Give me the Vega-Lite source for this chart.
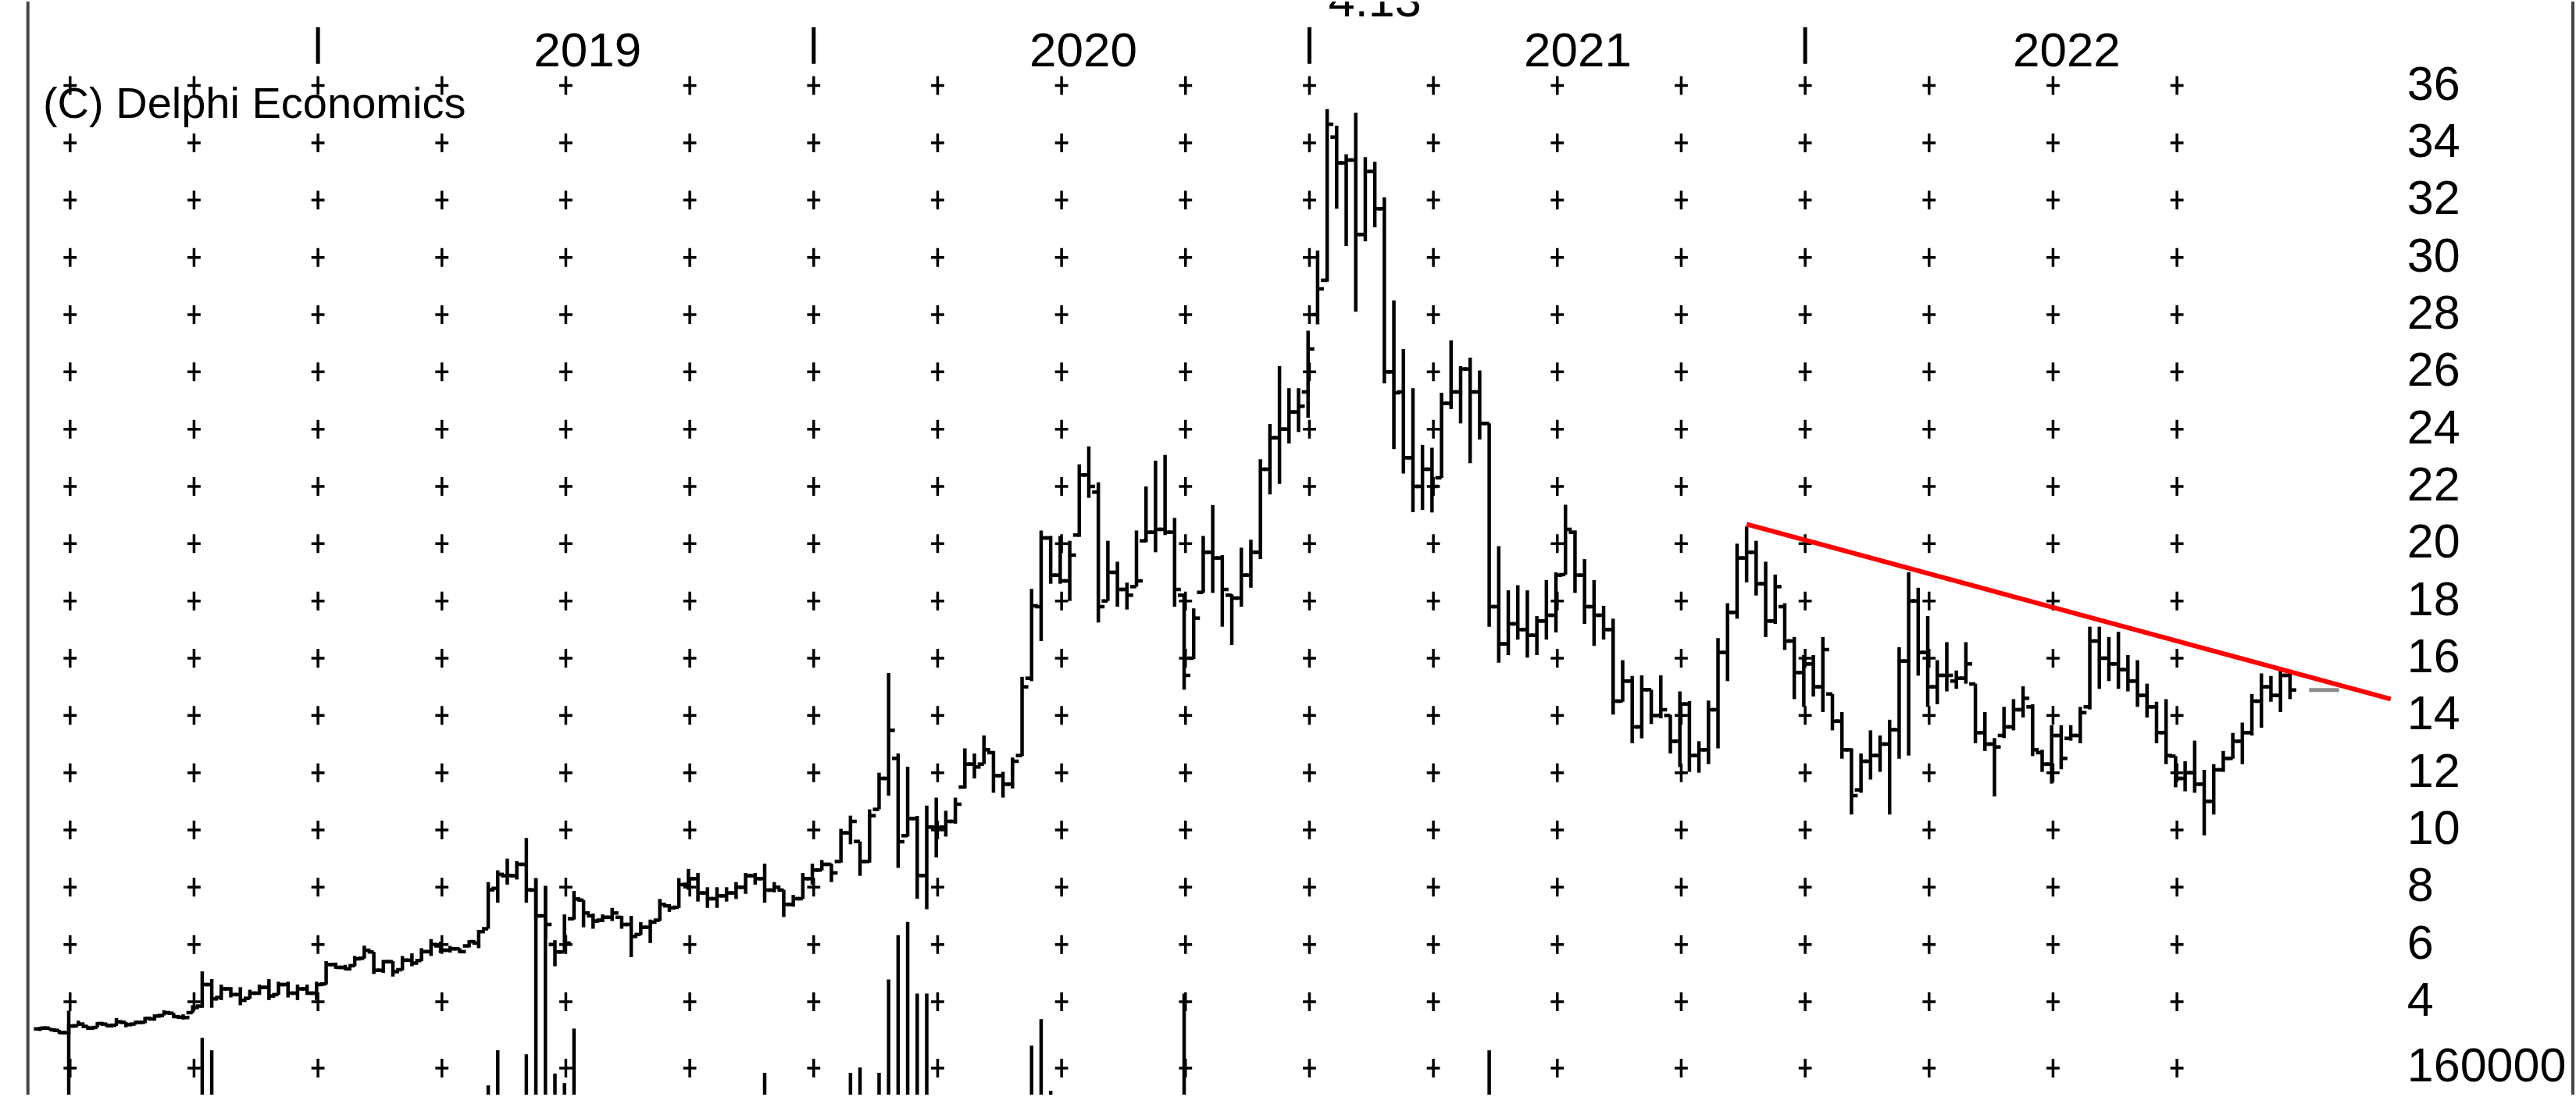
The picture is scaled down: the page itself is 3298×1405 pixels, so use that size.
{
"$schema": "https://vega.github.io/schema/vega-lite/v6.json",
"width": 3298, "height": 1405, "padding": 0,
"autosize": {"type": "fit", "contains": "padding"},
"background": "#ffffff",
"config": {"view": {"stroke": null}},
"datasets": {
"ohlc": [
{"d":"2018-06-08","o":3.05,"h":3.12,"l":2.98,"c":3.08},
{"d":"2018-06-15","o":3.08,"h":3.10,"l":3.00,"c":3.02},
{"d":"2018-06-22","o":3.00,"h":3.02,"l":2.88,"c":2.92},
{"d":"2018-06-29","o":2.92,"h":3.20,"l":2.86,"c":3.15},
{"d":"2018-07-06","o":3.16,"h":3.34,"l":3.16,"c":3.22},
{"d":"2018-07-13","o":3.14,"h":3.16,"l":3.02,"c":3.08},
{"d":"2018-07-20","o":3.10,"h":3.29,"l":3.10,"c":3.24},
{"d":"2018-07-27","o":3.22,"h":3.25,"l":3.11,"c":3.16},
{"d":"2018-08-03","o":3.18,"h":3.43,"l":3.16,"c":3.30},
{"d":"2018-08-10","o":3.28,"h":3.29,"l":3.11,"c":3.20},
{"d":"2018-08-17","o":3.22,"h":3.34,"l":3.20,"c":3.28},
{"d":"2018-08-24","o":3.28,"h":3.47,"l":3.25,"c":3.42},
{"d":"2018-08-31","o":3.40,"h":3.56,"l":3.34,"c":3.50},
{"d":"2018-09-07","o":3.52,"h":3.70,"l":3.52,"c":3.62},
{"d":"2018-09-14","o":3.60,"h":3.61,"l":3.43,"c":3.48},
{"d":"2018-09-21","o":3.46,"h":3.56,"l":3.38,"c":3.45},
{"d":"2018-09-28","o":3.62,"h":3.88,"l":3.61,"c":3.80},
{"d":"2018-10-05","o":3.85,"h":5.06,"l":3.79,"c":4.60},
{"d":"2018-10-12","o":4.60,"h":4.79,"l":3.79,"c":4.10},
{"d":"2018-10-19","o":4.15,"h":4.60,"l":4.06,"c":4.45},
{"d":"2018-10-26","o":4.45,"h":4.51,"l":4.15,"c":4.25},
{"d":"2018-11-02","o":4.25,"h":4.51,"l":3.88,"c":4.05},
{"d":"2018-11-09","o":4.12,"h":4.42,"l":4.10,"c":4.30},
{"d":"2018-11-16","o":4.30,"h":4.60,"l":4.24,"c":4.50},
{"d":"2018-11-23","o":4.50,"h":4.79,"l":4.06,"c":4.20},
{"d":"2018-11-30","o":4.25,"h":4.70,"l":4.24,"c":4.60},
{"d":"2018-12-07","o":4.60,"h":4.70,"l":4.15,"c":4.30},
{"d":"2018-12-14","o":4.30,"h":4.60,"l":4.06,"c":4.45},
{"d":"2018-12-21","o":4.45,"h":4.60,"l":4.24,"c":4.30},
{"d":"2018-12-28","o":4.30,"h":4.70,"l":4.06,"c":4.60},
{"d":"2019-01-04","o":4.62,"h":5.42,"l":4.60,"c":5.30},
{"d":"2019-01-11","o":5.30,"h":5.37,"l":5.15,"c":5.20},
{"d":"2019-01-18","o":5.20,"h":5.29,"l":5.10,"c":5.15},
{"d":"2019-01-25","o":5.26,"h":5.60,"l":5.24,"c":5.50},
{"d":"2019-02-01","o":5.52,"h":5.96,"l":5.51,"c":5.80},
{"d":"2019-02-08","o":5.74,"h":5.74,"l":4.97,"c":5.10},
{"d":"2019-02-15","o":5.10,"h":5.46,"l":5.01,"c":5.40},
{"d":"2019-02-22","o":5.40,"h":5.42,"l":4.88,"c":5.05},
{"d":"2019-03-01","o":5.12,"h":5.60,"l":5.10,"c":5.45},
{"d":"2019-03-08","o":5.45,"h":5.69,"l":5.24,"c":5.35},
{"d":"2019-03-15","o":5.44,"h":5.87,"l":5.42,"c":5.75},
{"d":"2019-03-22","o":5.75,"h":6.19,"l":5.60,"c":6.00},
{"d":"2019-03-29","o":5.95,"h":6.10,"l":5.70,"c":5.80},
{"d":"2019-04-05","o":5.80,"h":5.95,"l":5.72,"c":5.85},
{"d":"2019-04-12","o":5.85,"h":5.87,"l":5.70,"c":5.75},
{"d":"2019-04-19","o":5.95,"h":6.15,"l":5.90,"c":6.10},
{"d":"2019-04-26","o":6.05,"h":6.51,"l":5.87,"c":6.45},
{"d":"2019-05-03","o":6.55,"h":8.18,"l":6.55,"c":7.91},
{"d":"2019-05-10","o":7.96,"h":8.59,"l":7.46,"c":8.45},
{"d":"2019-05-17","o":8.40,"h":9.00,"l":8.09,"c":8.41},
{"d":"2019-05-24","o":8.40,"h":8.91,"l":8.27,"c":8.80},
{"d":"2019-05-31","o":8.80,"h":9.72,"l":7.46,"c":7.91},
{"d":"2019-06-07","o":7.90,"h":8.32,"l":6.90,"c":7.00},
{"d":"2019-06-14","o":7.00,"h":8.05,"l":6.20,"c":6.70},
{"d":"2019-06-21","o":6.00,"h":6.15,"l":5.24,"c":5.74},
{"d":"2019-06-28","o":5.74,"h":7.05,"l":5.74,"c":6.05},
{"d":"2019-07-05","o":6.90,"h":7.87,"l":6.87,"c":7.59},
{"d":"2019-07-12","o":7.55,"h":7.55,"l":6.60,"c":7.10},
{"d":"2019-07-19","o":7.00,"h":7.08,"l":6.55,"c":6.82},
{"d":"2019-07-26","o":6.85,"h":7.05,"l":6.78,"c":6.95},
{"d":"2019-08-02","o":6.95,"h":7.28,"l":6.82,"c":7.10},
{"d":"2019-08-09","o":6.95,"h":7.00,"l":6.55,"c":6.70},
{"d":"2019-08-16","o":6.70,"h":7.00,"l":5.56,"c":6.28},
{"d":"2019-08-23","o":6.35,"h":6.78,"l":6.33,"c":6.60},
{"d":"2019-08-30","o":6.60,"h":6.87,"l":6.05,"c":6.78},
{"d":"2019-09-06","o":6.85,"h":7.59,"l":6.82,"c":7.40},
{"d":"2019-09-13","o":7.35,"h":7.41,"l":7.14,"c":7.28},
{"d":"2019-09-20","o":7.30,"h":8.32,"l":7.28,"c":8.09},
{"d":"2019-09-27","o":8.10,"h":8.64,"l":7.91,"c":8.30},
{"d":"2019-10-04","o":8.30,"h":8.50,"l":7.50,"c":7.80},
{"d":"2019-10-11","o":7.80,"h":8.00,"l":7.28,"c":7.60},
{"d":"2019-10-18","o":7.60,"h":8.00,"l":7.28,"c":7.70},
{"d":"2019-10-25","o":7.70,"h":8.00,"l":7.50,"c":7.80},
{"d":"2019-11-01","o":7.80,"h":8.18,"l":7.59,"c":8.00},
{"d":"2019-11-08","o":8.00,"h":8.50,"l":7.77,"c":8.40},
{"d":"2019-11-15","o":8.40,"h":8.50,"l":8.09,"c":8.30},
{"d":"2019-11-22","o":8.30,"h":8.82,"l":7.46,"c":7.90},
{"d":"2019-11-29","o":7.90,"h":8.18,"l":7.82,"c":8.00},
{"d":"2019-12-06","o":7.90,"h":7.91,"l":6.96,"c":7.40},
{"d":"2019-12-13","o":7.40,"h":7.73,"l":7.32,"c":7.60},
{"d":"2019-12-20","o":7.60,"h":8.50,"l":7.59,"c":8.30},
{"d":"2019-12-27","o":8.30,"h":8.82,"l":8.09,"c":8.60},
{"d":"2020-01-03","o":8.60,"h":8.95,"l":8.59,"c":8.80},
{"d":"2020-01-10","o":8.80,"h":8.82,"l":8.18,"c":8.50},
{"d":"2020-01-17","o":8.90,"h":10.04,"l":8.86,"c":9.90},
{"d":"2020-01-24","o":9.90,"h":10.50,"l":9.50,"c":10.30},
{"d":"2020-01-31","o":9.60,"h":9.60,"l":8.40,"c":8.90},
{"d":"2020-02-07","o":8.90,"h":10.72,"l":8.86,"c":10.50},
{"d":"2020-02-14","o":10.72,"h":12.00,"l":10.72,"c":11.80},
{"d":"2020-02-21","o":11.80,"h":15.48,"l":11.20,"c":13.48},
{"d":"2020-02-28","o":12.50,"h":12.67,"l":8.68,"c":9.59},
{"d":"2020-03-06","o":9.80,"h":12.21,"l":9.77,"c":10.40},
{"d":"2020-03-13","o":10.40,"h":10.49,"l":7.60,"c":8.41},
{"d":"2020-03-20","o":8.41,"h":10.85,"l":7.23,"c":10.10},
{"d":"2020-03-27","o":10.10,"h":11.13,"l":9.04,"c":10.08},
{"d":"2020-04-03","o":10.10,"h":10.67,"l":9.77,"c":10.30},
{"d":"2020-04-10","o":10.30,"h":11.13,"l":10.22,"c":10.90},
{"d":"2020-04-17","o":11.50,"h":12.85,"l":11.45,"c":12.30},
{"d":"2020-04-24","o":12.30,"h":12.67,"l":11.80,"c":12.20},
{"d":"2020-05-01","o":12.30,"h":13.30,"l":12.30,"c":12.80},
{"d":"2020-05-08","o":12.70,"h":12.76,"l":11.30,"c":11.90},
{"d":"2020-05-15","o":11.90,"h":12.03,"l":11.13,"c":11.60},
{"d":"2020-05-22","o":11.60,"h":12.53,"l":11.45,"c":12.40},
{"d":"2020-05-29","o":12.60,"h":15.35,"l":12.58,"c":15.00},
{"d":"2020-06-05","o":15.30,"h":18.42,"l":15.20,"c":17.83},
{"d":"2020-06-12","o":17.80,"h":20.46,"l":16.60,"c":20.20},
{"d":"2020-06-19","o":20.20,"h":20.27,"l":18.60,"c":18.90},
{"d":"2020-06-26","o":18.90,"h":20.27,"l":18.60,"c":18.70},
{"d":"2020-07-03","o":18.70,"h":20.10,"l":18.00,"c":19.60},
{"d":"2020-07-10","o":20.30,"h":22.77,"l":20.24,"c":22.40},
{"d":"2020-07-17","o":22.40,"h":23.40,"l":21.60,"c":22.00},
{"d":"2020-07-24","o":21.80,"h":22.14,"l":17.25,"c":17.80},
{"d":"2020-07-31","o":18.00,"h":20.10,"l":18.00,"c":19.00},
{"d":"2020-08-07","o":19.00,"h":19.37,"l":17.80,"c":18.40},
{"d":"2020-08-14","o":18.40,"h":18.64,"l":17.70,"c":18.20},
{"d":"2020-08-21","o":18.50,"h":20.46,"l":18.50,"c":18.70},
{"d":"2020-08-28","o":20.10,"h":22.00,"l":20.05,"c":20.40},
{"d":"2020-09-04","o":20.40,"h":22.90,"l":19.70,"c":20.50},
{"d":"2020-09-11","o":20.50,"h":23.10,"l":20.30,"c":20.40},
{"d":"2020-09-18","o":20.40,"h":20.90,"l":17.80,"c":18.40},
{"d":"2020-09-25","o":18.20,"h":18.20,"l":14.90,"c":15.40},
{"d":"2020-10-02","o":16.00,"h":17.74,"l":15.97,"c":17.40},
{"d":"2020-10-09","o":18.30,"h":20.27,"l":18.28,"c":19.70},
{"d":"2020-10-16","o":19.70,"h":21.35,"l":18.28,"c":19.50},
{"d":"2020-10-23","o":19.50,"h":19.60,"l":17.10,"c":18.40},
{"d":"2020-10-30","o":18.20,"h":18.23,"l":16.46,"c":18.10},
{"d":"2020-11-06","o":18.10,"h":19.86,"l":17.80,"c":18.90},
{"d":"2020-11-13","o":18.90,"h":20.14,"l":18.46,"c":19.70},
{"d":"2020-11-20","o":19.70,"h":22.95,"l":19.46,"c":22.60},
{"d":"2020-11-27","o":22.60,"h":24.18,"l":21.72,"c":23.70},
{"d":"2020-12-04","o":23.70,"h":26.20,"l":22.09,"c":24.00},
{"d":"2020-12-11","o":24.00,"h":25.43,"l":23.50,"c":24.60},
{"d":"2020-12-18","o":24.60,"h":25.43,"l":23.90,"c":24.80},
{"d":"2020-12-25","o":25.30,"h":27.44,"l":24.40,"c":26.80},
{"d":"2021-01-01","o":28.00,"h":30.24,"l":27.66,"c":28.90},
{"d":"2021-01-08","o":29.20,"h":35.18,"l":29.15,"c":34.65},
{"d":"2021-01-15","o":34.20,"h":34.60,"l":31.70,"c":33.30},
{"d":"2021-01-22","o":33.30,"h":33.60,"l":30.40,"c":33.40},
{"d":"2021-01-29","o":33.40,"h":35.05,"l":28.10,"c":30.80},
{"d":"2021-02-05","o":30.80,"h":33.50,"l":30.56,"c":33.00},
{"d":"2021-02-12","o":33.00,"h":33.34,"l":31.05,"c":31.70},
{"d":"2021-02-19","o":31.70,"h":32.10,"l":25.60,"c":26.00},
{"d":"2021-02-26","o":26.00,"h":28.50,"l":23.30,"c":25.27},
{"d":"2021-03-05","o":25.30,"h":26.80,"l":22.45,"c":23.00},
{"d":"2021-03-12","o":23.00,"h":25.43,"l":21.10,"c":22.00},
{"d":"2021-03-19","o":22.00,"h":23.45,"l":21.18,"c":22.60},
{"d":"2021-03-26","o":22.60,"h":23.35,"l":21.09,"c":22.00},
{"d":"2021-04-02","o":22.30,"h":25.27,"l":22.30,"c":24.90},
{"d":"2021-04-09","o":24.90,"h":27.10,"l":24.70,"c":25.30},
{"d":"2021-04-16","o":25.30,"h":26.20,"l":24.20,"c":26.10},
{"d":"2021-04-23","o":26.10,"h":26.50,"l":22.81,"c":25.30},
{"d":"2021-04-30","o":25.30,"h":26.05,"l":23.64,"c":24.20},
{"d":"2021-05-07","o":24.20,"h":24.20,"l":17.10,"c":17.80},
{"d":"2021-05-14","o":17.80,"h":19.91,"l":15.84,"c":16.50},
{"d":"2021-05-21","o":16.50,"h":18.37,"l":16.11,"c":17.20},
{"d":"2021-05-28","o":17.20,"h":18.55,"l":16.65,"c":17.00},
{"d":"2021-06-04","o":17.00,"h":18.37,"l":16.02,"c":16.80},
{"d":"2021-06-11","o":16.80,"h":17.47,"l":16.11,"c":17.30},
{"d":"2021-06-18","o":17.30,"h":18.73,"l":16.65,"c":17.50},
{"d":"2021-06-25","o":17.50,"h":19.00,"l":16.90,"c":18.90},
{"d":"2021-07-02","o":18.92,"h":21.36,"l":18.92,"c":20.50},
{"d":"2021-07-09","o":20.40,"h":20.46,"l":18.28,"c":18.90},
{"d":"2021-07-16","o":18.90,"h":19.46,"l":17.20,"c":17.80},
{"d":"2021-07-23","o":17.80,"h":18.73,"l":16.43,"c":17.50},
{"d":"2021-07-30","o":17.50,"h":17.83,"l":16.65,"c":17.00},
{"d":"2021-08-06","o":17.00,"h":17.38,"l":14.03,"c":14.50},
{"d":"2021-08-13","o":14.50,"h":15.93,"l":14.48,"c":15.20},
{"d":"2021-08-20","o":15.20,"h":15.38,"l":13.03,"c":13.60},
{"d":"2021-08-27","o":13.60,"h":15.40,"l":13.20,"c":14.90},
{"d":"2021-09-03","o":14.90,"h":14.90,"l":13.70,"c":14.00},
{"d":"2021-09-10","o":14.00,"h":15.40,"l":13.90,"c":14.20},
{"d":"2021-09-17","o":14.00,"h":14.02,"l":12.67,"c":13.10},
{"d":"2021-09-24","o":13.10,"h":14.84,"l":12.20,"c":14.40},
{"d":"2021-10-01","o":14.40,"h":14.50,"l":12.03,"c":12.60},
{"d":"2021-10-08","o":12.60,"h":13.10,"l":12.00,"c":12.80},
{"d":"2021-10-15","o":12.80,"h":14.52,"l":12.30,"c":14.20},
{"d":"2021-10-22","o":14.20,"h":16.70,"l":12.85,"c":16.20},
{"d":"2021-10-29","o":16.20,"h":17.92,"l":15.20,"c":17.60},
{"d":"2021-11-05","o":17.60,"h":20.00,"l":17.38,"c":19.50},
{"d":"2021-11-12","o":19.50,"h":20.60,"l":18.65,"c":19.70},
{"d":"2021-11-19","o":19.70,"h":20.10,"l":18.19,"c":18.60},
{"d":"2021-11-26","o":18.60,"h":19.37,"l":16.74,"c":17.30},
{"d":"2021-12-03","o":17.30,"h":18.92,"l":17.20,"c":18.50},
{"d":"2021-12-10","o":17.80,"h":17.92,"l":16.29,"c":16.60},
{"d":"2021-12-17","o":16.60,"h":16.74,"l":14.57,"c":15.50},
{"d":"2021-12-24","o":15.50,"h":16.11,"l":14.30,"c":15.80},
{"d":"2021-12-31","o":15.80,"h":16.11,"l":14.66,"c":15.00},
{"d":"2022-01-07","o":15.00,"h":16.74,"l":14.12,"c":16.30},
{"d":"2022-01-14","o":14.75,"h":14.75,"l":13.48,"c":13.80},
{"d":"2022-01-21","o":13.80,"h":14.12,"l":12.49,"c":12.80},
{"d":"2022-01-28","o":12.80,"h":12.85,"l":10.54,"c":11.20},
{"d":"2022-02-04","o":11.40,"h":12.67,"l":11.30,"c":12.40},
{"d":"2022-02-11","o":12.40,"h":13.48,"l":11.76,"c":12.60},
{"d":"2022-02-18","o":12.60,"h":13.30,"l":12.03,"c":13.00},
{"d":"2022-02-25","o":13.00,"h":13.85,"l":10.54,"c":13.50},
{"d":"2022-03-04","o":13.50,"h":16.38,"l":12.49,"c":15.90},
{"d":"2022-03-11","o":15.90,"h":19.00,"l":12.60,"c":18.00},
{"d":"2022-03-18","o":18.00,"h":18.46,"l":15.39,"c":16.20},
{"d":"2022-03-25","o":16.20,"h":17.47,"l":14.30,"c":15.00},
{"d":"2022-04-01","o":15.00,"h":15.93,"l":14.39,"c":15.40},
{"d":"2022-04-08","o":15.40,"h":16.56,"l":14.84,"c":15.40},
{"d":"2022-04-15","o":15.20,"h":15.57,"l":14.93,"c":15.30},
{"d":"2022-04-22","o":15.30,"h":16.56,"l":15.11,"c":15.80},
{"d":"2022-04-29","o":15.10,"h":15.11,"l":13.03,"c":13.40},
{"d":"2022-05-06","o":13.40,"h":14.12,"l":12.76,"c":13.00},
{"d":"2022-05-13","o":13.00,"h":13.21,"l":11.17,"c":12.90},
{"d":"2022-05-20","o":13.30,"h":14.30,"l":13.21,"c":13.60},
{"d":"2022-05-27","o":13.60,"h":14.57,"l":13.48,"c":14.20},
{"d":"2022-06-03","o":14.20,"h":15.02,"l":13.93,"c":14.60},
{"d":"2022-06-10","o":14.30,"h":14.39,"l":12.58,"c":12.80},
{"d":"2022-06-17","o":12.70,"h":12.80,"l":12.03,"c":12.30},
{"d":"2022-06-24","o":12.30,"h":13.66,"l":11.62,"c":13.30},
{"d":"2022-07-01","o":13.30,"h":13.66,"l":12.12,"c":12.50},
{"d":"2022-07-08","o":13.20,"h":13.66,"l":13.12,"c":13.30},
{"d":"2022-07-15","o":13.30,"h":14.30,"l":13.03,"c":14.10},
{"d":"2022-07-22","o":14.30,"h":17.10,"l":14.21,"c":16.60},
{"d":"2022-07-29","o":16.60,"h":17.10,"l":14.93,"c":16.00},
{"d":"2022-08-05","o":16.00,"h":16.74,"l":15.20,"c":15.80},
{"d":"2022-08-12","o":15.80,"h":16.92,"l":14.93,"c":15.60},
{"d":"2022-08-19","o":15.60,"h":16.11,"l":14.84,"c":15.20},
{"d":"2022-08-26","o":15.20,"h":15.93,"l":14.30,"c":14.70},
{"d":"2022-09-02","o":14.70,"h":15.11,"l":13.93,"c":14.30},
{"d":"2022-09-09","o":14.30,"h":14.48,"l":13.03,"c":13.40},
{"d":"2022-09-16","o":13.40,"h":14.57,"l":12.30,"c":12.60},
{"d":"2022-09-23","o":12.58,"h":12.58,"l":11.49,"c":11.80},
{"d":"2022-09-30","o":11.80,"h":12.40,"l":11.35,"c":12.00},
{"d":"2022-10-07","o":12.00,"h":13.12,"l":11.30,"c":11.60},
{"d":"2022-10-14","o":11.60,"h":12.10,"l":9.81,"c":11.00},
{"d":"2022-10-21","o":11.00,"h":12.30,"l":10.54,"c":12.10},
{"d":"2022-10-28","o":12.10,"h":12.76,"l":12.03,"c":12.50},
{"d":"2022-11-04","o":12.50,"h":13.39,"l":12.49,"c":13.10},
{"d":"2022-11-11","o":13.10,"h":13.75,"l":12.30,"c":13.40},
{"d":"2022-11-18","o":13.40,"h":14.75,"l":13.30,"c":14.50},
{"d":"2022-11-25","o":14.50,"h":15.47,"l":13.57,"c":15.00},
{"d":"2022-12-02","o":15.00,"h":15.38,"l":14.48,"c":14.70},
{"d":"2022-12-09","o":14.70,"h":15.57,"l":14.12,"c":15.40},
{"d":"2022-12-16","o":15.40,"h":15.57,"l":14.57,"c":14.89}
],
"vol": [
{"d":"2018-06-29","vol":507000},
{"d":"2018-10-05","vol":343000},
{"d":"2018-10-12","vol":268000},
{"d":"2019-05-03","vol":56000},
{"d":"2019-05-10","vol":268000},
{"d":"2019-05-31","vol":244000},
{"d":"2019-06-07","vol":1306000},
{"d":"2019-06-14","vol":1259000},
{"d":"2019-06-21","vol":127000},
{"d":"2019-06-28","vol":70000},
{"d":"2019-07-05","vol":399000},
{"d":"2019-11-22","vol":132000},
{"d":"2020-01-24","vol":132000},
{"d":"2020-01-31","vol":164000},
{"d":"2020-02-14","vol":132000},
{"d":"2020-02-21","vol":695000},
{"d":"2020-02-28","vol":963000},
{"d":"2020-03-06","vol":1043000},
{"d":"2020-03-13","vol":611000},
{"d":"2020-03-20","vol":611000},
{"d":"2020-06-05","vol":296000},
{"d":"2020-06-12","vol":456000},
{"d":"2020-06-19","vol":23000},
{"d":"2020-09-25","vol":611000},
{"d":"2021-05-07","vol":268000}
],
"cols": [
{"d":"2018-06-30"},{"d":"2018-09-29"},{"d":"2018-12-29"},{"d":"2019-03-30"},{"d":"2019-06-29"},{"d":"2019-09-28"},{"d":"2019-12-28"},{"d":"2020-03-28"},{"d":"2020-06-27"},{"d":"2020-09-26"},{"d":"2020-12-26"},{"d":"2021-03-27"},{"d":"2021-06-26"},{"d":"2021-09-25"},{"d":"2021-12-25"},{"d":"2022-03-26"},{"d":"2022-06-25"},{"d":"2022-09-24"}
],
"grid": [
{"d":"2018-06-30","v":4},{"d":"2018-06-30","v":6},{"d":"2018-06-30","v":8},{"d":"2018-06-30","v":10},{"d":"2018-06-30","v":12},{"d":"2018-06-30","v":14},{"d":"2018-06-30","v":16},{"d":"2018-06-30","v":18},{"d":"2018-06-30","v":20},{"d":"2018-06-30","v":22},{"d":"2018-06-30","v":24},{"d":"2018-06-30","v":26},{"d":"2018-06-30","v":28},{"d":"2018-06-30","v":30},{"d":"2018-06-30","v":32},{"d":"2018-06-30","v":34},{"d":"2018-06-30","v":36},
{"d":"2018-09-29","v":4},{"d":"2018-09-29","v":6},{"d":"2018-09-29","v":8},{"d":"2018-09-29","v":10},{"d":"2018-09-29","v":12},{"d":"2018-09-29","v":14},{"d":"2018-09-29","v":16},{"d":"2018-09-29","v":18},{"d":"2018-09-29","v":20},{"d":"2018-09-29","v":22},{"d":"2018-09-29","v":24},{"d":"2018-09-29","v":26},{"d":"2018-09-29","v":28},{"d":"2018-09-29","v":30},{"d":"2018-09-29","v":32},{"d":"2018-09-29","v":34},{"d":"2018-09-29","v":36},
{"d":"2018-12-29","v":4},{"d":"2018-12-29","v":6},{"d":"2018-12-29","v":8},{"d":"2018-12-29","v":10},{"d":"2018-12-29","v":12},{"d":"2018-12-29","v":14},{"d":"2018-12-29","v":16},{"d":"2018-12-29","v":18},{"d":"2018-12-29","v":20},{"d":"2018-12-29","v":22},{"d":"2018-12-29","v":24},{"d":"2018-12-29","v":26},{"d":"2018-12-29","v":28},{"d":"2018-12-29","v":30},{"d":"2018-12-29","v":32},{"d":"2018-12-29","v":34},{"d":"2018-12-29","v":36},
{"d":"2019-03-30","v":4},{"d":"2019-03-30","v":6},{"d":"2019-03-30","v":8},{"d":"2019-03-30","v":10},{"d":"2019-03-30","v":12},{"d":"2019-03-30","v":14},{"d":"2019-03-30","v":16},{"d":"2019-03-30","v":18},{"d":"2019-03-30","v":20},{"d":"2019-03-30","v":22},{"d":"2019-03-30","v":24},{"d":"2019-03-30","v":26},{"d":"2019-03-30","v":28},{"d":"2019-03-30","v":30},{"d":"2019-03-30","v":32},{"d":"2019-03-30","v":34},{"d":"2019-03-30","v":36},
{"d":"2019-06-29","v":4},{"d":"2019-06-29","v":6},{"d":"2019-06-29","v":8},{"d":"2019-06-29","v":10},{"d":"2019-06-29","v":12},{"d":"2019-06-29","v":14},{"d":"2019-06-29","v":16},{"d":"2019-06-29","v":18},{"d":"2019-06-29","v":20},{"d":"2019-06-29","v":22},{"d":"2019-06-29","v":24},{"d":"2019-06-29","v":26},{"d":"2019-06-29","v":28},{"d":"2019-06-29","v":30},{"d":"2019-06-29","v":32},{"d":"2019-06-29","v":34},{"d":"2019-06-29","v":36},
{"d":"2019-09-28","v":4},{"d":"2019-09-28","v":6},{"d":"2019-09-28","v":8},{"d":"2019-09-28","v":10},{"d":"2019-09-28","v":12},{"d":"2019-09-28","v":14},{"d":"2019-09-28","v":16},{"d":"2019-09-28","v":18},{"d":"2019-09-28","v":20},{"d":"2019-09-28","v":22},{"d":"2019-09-28","v":24},{"d":"2019-09-28","v":26},{"d":"2019-09-28","v":28},{"d":"2019-09-28","v":30},{"d":"2019-09-28","v":32},{"d":"2019-09-28","v":34},{"d":"2019-09-28","v":36},
{"d":"2019-12-28","v":4},{"d":"2019-12-28","v":6},{"d":"2019-12-28","v":8},{"d":"2019-12-28","v":10},{"d":"2019-12-28","v":12},{"d":"2019-12-28","v":14},{"d":"2019-12-28","v":16},{"d":"2019-12-28","v":18},{"d":"2019-12-28","v":20},{"d":"2019-12-28","v":22},{"d":"2019-12-28","v":24},{"d":"2019-12-28","v":26},{"d":"2019-12-28","v":28},{"d":"2019-12-28","v":30},{"d":"2019-12-28","v":32},{"d":"2019-12-28","v":34},{"d":"2019-12-28","v":36},
{"d":"2020-03-28","v":4},{"d":"2020-03-28","v":6},{"d":"2020-03-28","v":8},{"d":"2020-03-28","v":10},{"d":"2020-03-28","v":12},{"d":"2020-03-28","v":14},{"d":"2020-03-28","v":16},{"d":"2020-03-28","v":18},{"d":"2020-03-28","v":20},{"d":"2020-03-28","v":22},{"d":"2020-03-28","v":24},{"d":"2020-03-28","v":26},{"d":"2020-03-28","v":28},{"d":"2020-03-28","v":30},{"d":"2020-03-28","v":32},{"d":"2020-03-28","v":34},{"d":"2020-03-28","v":36},
{"d":"2020-06-27","v":4},{"d":"2020-06-27","v":6},{"d":"2020-06-27","v":8},{"d":"2020-06-27","v":10},{"d":"2020-06-27","v":12},{"d":"2020-06-27","v":14},{"d":"2020-06-27","v":16},{"d":"2020-06-27","v":18},{"d":"2020-06-27","v":20},{"d":"2020-06-27","v":22},{"d":"2020-06-27","v":24},{"d":"2020-06-27","v":26},{"d":"2020-06-27","v":28},{"d":"2020-06-27","v":30},{"d":"2020-06-27","v":32},{"d":"2020-06-27","v":34},{"d":"2020-06-27","v":36},
{"d":"2020-09-26","v":4},{"d":"2020-09-26","v":6},{"d":"2020-09-26","v":8},{"d":"2020-09-26","v":10},{"d":"2020-09-26","v":12},{"d":"2020-09-26","v":14},{"d":"2020-09-26","v":16},{"d":"2020-09-26","v":18},{"d":"2020-09-26","v":20},{"d":"2020-09-26","v":22},{"d":"2020-09-26","v":24},{"d":"2020-09-26","v":26},{"d":"2020-09-26","v":28},{"d":"2020-09-26","v":30},{"d":"2020-09-26","v":32},{"d":"2020-09-26","v":34},{"d":"2020-09-26","v":36},
{"d":"2020-12-26","v":4},{"d":"2020-12-26","v":6},{"d":"2020-12-26","v":8},{"d":"2020-12-26","v":10},{"d":"2020-12-26","v":12},{"d":"2020-12-26","v":14},{"d":"2020-12-26","v":16},{"d":"2020-12-26","v":18},{"d":"2020-12-26","v":20},{"d":"2020-12-26","v":22},{"d":"2020-12-26","v":24},{"d":"2020-12-26","v":26},{"d":"2020-12-26","v":28},{"d":"2020-12-26","v":30},{"d":"2020-12-26","v":32},{"d":"2020-12-26","v":34},{"d":"2020-12-26","v":36},
{"d":"2021-03-27","v":4},{"d":"2021-03-27","v":6},{"d":"2021-03-27","v":8},{"d":"2021-03-27","v":10},{"d":"2021-03-27","v":12},{"d":"2021-03-27","v":14},{"d":"2021-03-27","v":16},{"d":"2021-03-27","v":18},{"d":"2021-03-27","v":20},{"d":"2021-03-27","v":22},{"d":"2021-03-27","v":24},{"d":"2021-03-27","v":26},{"d":"2021-03-27","v":28},{"d":"2021-03-27","v":30},{"d":"2021-03-27","v":32},{"d":"2021-03-27","v":34},{"d":"2021-03-27","v":36},
{"d":"2021-06-26","v":4},{"d":"2021-06-26","v":6},{"d":"2021-06-26","v":8},{"d":"2021-06-26","v":10},{"d":"2021-06-26","v":12},{"d":"2021-06-26","v":14},{"d":"2021-06-26","v":16},{"d":"2021-06-26","v":18},{"d":"2021-06-26","v":20},{"d":"2021-06-26","v":22},{"d":"2021-06-26","v":24},{"d":"2021-06-26","v":26},{"d":"2021-06-26","v":28},{"d":"2021-06-26","v":30},{"d":"2021-06-26","v":32},{"d":"2021-06-26","v":34},{"d":"2021-06-26","v":36},
{"d":"2021-09-25","v":4},{"d":"2021-09-25","v":6},{"d":"2021-09-25","v":8},{"d":"2021-09-25","v":10},{"d":"2021-09-25","v":12},{"d":"2021-09-25","v":14},{"d":"2021-09-25","v":16},{"d":"2021-09-25","v":18},{"d":"2021-09-25","v":20},{"d":"2021-09-25","v":22},{"d":"2021-09-25","v":24},{"d":"2021-09-25","v":26},{"d":"2021-09-25","v":28},{"d":"2021-09-25","v":30},{"d":"2021-09-25","v":32},{"d":"2021-09-25","v":34},{"d":"2021-09-25","v":36},
{"d":"2021-12-25","v":4},{"d":"2021-12-25","v":6},{"d":"2021-12-25","v":8},{"d":"2021-12-25","v":10},{"d":"2021-12-25","v":12},{"d":"2021-12-25","v":14},{"d":"2021-12-25","v":16},{"d":"2021-12-25","v":18},{"d":"2021-12-25","v":20},{"d":"2021-12-25","v":22},{"d":"2021-12-25","v":24},{"d":"2021-12-25","v":26},{"d":"2021-12-25","v":28},{"d":"2021-12-25","v":30},{"d":"2021-12-25","v":32},{"d":"2021-12-25","v":34},{"d":"2021-12-25","v":36},
{"d":"2022-03-26","v":4},{"d":"2022-03-26","v":6},{"d":"2022-03-26","v":8},{"d":"2022-03-26","v":10},{"d":"2022-03-26","v":12},{"d":"2022-03-26","v":14},{"d":"2022-03-26","v":16},{"d":"2022-03-26","v":18},{"d":"2022-03-26","v":20},{"d":"2022-03-26","v":22},{"d":"2022-03-26","v":24},{"d":"2022-03-26","v":26},{"d":"2022-03-26","v":28},{"d":"2022-03-26","v":30},{"d":"2022-03-26","v":32},{"d":"2022-03-26","v":34},{"d":"2022-03-26","v":36},
{"d":"2022-06-25","v":4},{"d":"2022-06-25","v":6},{"d":"2022-06-25","v":8},{"d":"2022-06-25","v":10},{"d":"2022-06-25","v":12},{"d":"2022-06-25","v":14},{"d":"2022-06-25","v":16},{"d":"2022-06-25","v":18},{"d":"2022-06-25","v":20},{"d":"2022-06-25","v":22},{"d":"2022-06-25","v":24},{"d":"2022-06-25","v":26},{"d":"2022-06-25","v":28},{"d":"2022-06-25","v":30},{"d":"2022-06-25","v":32},{"d":"2022-06-25","v":34},{"d":"2022-06-25","v":36},
{"d":"2022-09-24","v":4},{"d":"2022-09-24","v":6},{"d":"2022-09-24","v":8},{"d":"2022-09-24","v":10},{"d":"2022-09-24","v":12},{"d":"2022-09-24","v":14},{"d":"2022-09-24","v":16},{"d":"2022-09-24","v":18},{"d":"2022-09-24","v":20},{"d":"2022-09-24","v":22},{"d":"2022-09-24","v":24},{"d":"2022-09-24","v":26},{"d":"2022-09-24","v":28},{"d":"2022-09-24","v":30},{"d":"2022-09-24","v":32},{"d":"2022-09-24","v":34},{"d":"2022-09-24","v":36}
],
"yearTicks": [{"d":"2018-12-29"},{"d":"2019-12-28"},{"d":"2020-12-26"},{"d":"2021-12-25"}],
"yearLabels": [{"d":"2019-07-15","t":"2019"},{"d":"2020-07-13","t":"2020"},{"d":"2021-07-11","t":"2021"},{"d":"2022-07-05","t":"2022"}],
"yLabels": [{"d":"2023-03-12","v":4},{"d":"2023-03-12","v":6},{"d":"2023-03-12","v":8},{"d":"2023-03-12","v":10},{"d":"2023-03-12","v":12},{"d":"2023-03-12","v":14},{"d":"2023-03-12","v":16},{"d":"2023-03-12","v":18},{"d":"2023-03-12","v":20},{"d":"2023-03-12","v":22},{"d":"2023-03-12","v":24},{"d":"2023-03-12","v":26},{"d":"2023-03-12","v":28},{"d":"2023-03-12","v":30},{"d":"2023-03-12","v":32},{"d":"2023-03-12","v":34},{"d":"2023-03-12","v":36}],
"volLabel": [{"d":"2023-03-12","vol":160000}],
"trend": [{"d":"2021-11-12","d2":"2023-02-28","p":20.68,"p2":14.57}],
"last": [{"d":"2022-12-30","d2":"2023-01-21","p":14.89}],
"credit": [{"d":"2018-06-10","t":"(C) Delphi Economics"}],
"peakNote": [{"d":"2021-01-09","t":"4.13"}],
"borders": [{"d":"2018-05-30"},{"d":"2023-07-11T16:00:00Z"}]
},
"encoding": {
"x": {"field": "d", "type": "temporal", "axis": null,
"scale": {"type": "utc", "nice": false, "domain": [{"year": 2018, "month": 5, "date": 9, "hours": 12, "minutes": 30, "utc": true}, {"year": 2023, "month": 7, "date": 14, "utc": true}]}}
},
"layer": [
{"layer": [
{"data": {"name": "grid"},
"mark": {"type": "point", "shape": "M0,-1V1M-0.7,0H0.7", "size": 576, "filled": false, "color": "#000000", "strokeWidth": 3.5, "opacity": 1},
"encoding": {"y": {"field": "v", "type": "quantitative", "axis": null, "scale": {"domain": [0.755, 38.935], "nice": false, "zero": false}}}},
{"data": {"name": "borders"},
"mark": {"type": "rule", "color": "#444444", "strokeWidth": 4},
"encoding": {}},
{"data": {"name": "yearTicks"},
"mark": {"type": "rule", "color": "#000000", "strokeWidth": 5},
"encoding": {"y": {"datum": 36.76, "type": "quantitative", "axis": null, "scale": {"domain": [0.755, 38.935], "nice": false, "zero": false}}, "y2": {"datum": 38.04}}},
{"data": {"name": "yearLabels"},
"mark": {"type": "text", "font": "Liberation Sans", "fontSize": 62, "align": "center", "baseline": "alphabetic", "color": "#000000", "clip": true},
"encoding": {"y": {"datum": 36.68, "type": "quantitative", "axis": null, "scale": {"domain": [0.755, 38.935], "nice": false, "zero": false}}, "text": {"field": "t", "type": "nominal"}}},
{"data": {"name": "ohlc"},
"mark": {"type": "rule", "color": "#000000", "strokeWidth": 4.5},
"encoding": {"y": {"field": "l", "type": "quantitative", "axis": null, "scale": {"domain": [0.755, 38.935], "nice": false, "zero": false}}, "y2": {"field": "h"}}},
{"data": {"name": "ohlc"},
"mark": {"type": "point", "shape": "M-1,0H0", "size": 256, "filled": false, "color": "#000000", "strokeWidth": 4.5, "opacity": 1},
"encoding": {"y": {"field": "o", "type": "quantitative", "axis": null, "scale": {"domain": [0.755, 38.935], "nice": false, "zero": false}}}},
{"data": {"name": "ohlc"},
"mark": {"type": "point", "shape": "M0,0H1", "size": 256, "filled": false, "color": "#000000", "strokeWidth": 4.5, "opacity": 1},
"encoding": {"y": {"field": "c", "type": "quantitative", "axis": null, "scale": {"domain": [0.755, 38.935], "nice": false, "zero": false}}}},
{"data": {"name": "last"},
"mark": {"type": "rule", "color": "#8c8c8c", "strokeWidth": 5},
"encoding": {"x2": {"field": "d2"}, "y": {"field": "p", "type": "quantitative", "axis": null, "scale": {"domain": [0.755, 38.935], "nice": false, "zero": false}}}},
{"data": {"name": "trend"},
"mark": {"type": "rule", "color": "#ff0000", "strokeWidth": 6},
"encoding": {"x2": {"field": "d2"}, "y": {"field": "p", "type": "quantitative", "axis": null, "scale": {"domain": [0.755, 38.935], "nice": false, "zero": false}}, "y2": {"field": "p2"}}},
{"data": {"name": "yLabels"},
"mark": {"type": "text", "font": "Liberation Sans", "fontSize": 61, "align": "left", "baseline": "alphabetic", "dy": 18, "color": "#000000", "clip": true},
"encoding": {"y": {"field": "v", "type": "quantitative", "axis": null, "scale": {"domain": [0.755, 38.935], "nice": false, "zero": false}}, "text": {"field": "v", "type": "nominal"}}},
{"data": {"name": "credit"},
"mark": {"type": "text", "font": "Liberation Sans", "fontSize": 56, "align": "left", "baseline": "alphabetic", "color": "#000000", "clip": true},
"encoding": {"y": {"datum": 34.86, "type": "quantitative", "axis": null, "scale": {"domain": [0.755, 38.935], "nice": false, "zero": false}}, "text": {"field": "t", "type": "nominal"}}},
{"data": {"name": "peakNote"},
"mark": {"type": "text", "font": "Liberation Sans", "fontSize": 61, "align": "left", "baseline": "alphabetic", "color": "#000000", "clip": true},
"encoding": {"y": {"datum": 38.41, "type": "quantitative", "axis": null, "scale": {"domain": [0.755, 38.935], "nice": false, "zero": false}}, "text": {"field": "t", "type": "nominal"}}}
]},
{"layer": [
{"data": {"name": "vol"},
"mark": {"type": "rule", "color": "#000000", "strokeWidth": 4.5},
"encoding": {"y": {"field": "vol", "type": "quantitative", "axis": null, "scale": {"domain": [0, 6600000], "nice": false, "zero": true}}, "y2": {"datum": 0}}},
{"data": {"name": "cols"},
"mark": {"type": "point", "shape": "M0,-1V1M-0.7,0H0.7", "size": 576, "filled": false, "color": "#000000", "strokeWidth": 3.5, "opacity": 1},
"encoding": {"y": {"datum": 160000, "type": "quantitative", "axis": null, "scale": {"domain": [0, 6600000], "nice": false, "zero": true}}}},
{"data": {"name": "volLabel"},
"mark": {"type": "text", "font": "Liberation Sans", "fontSize": 61, "align": "left", "baseline": "alphabetic", "dy": 17, "color": "#000000", "clip": true},
"encoding": {"y": {"field": "vol", "type": "quantitative", "axis": null, "scale": {"domain": [0, 6600000], "nice": false, "zero": true}}, "text": {"field": "vol", "type": "nominal"}}}
]}
],
"resolve": {"scale": {"y": "independent"}}
}
